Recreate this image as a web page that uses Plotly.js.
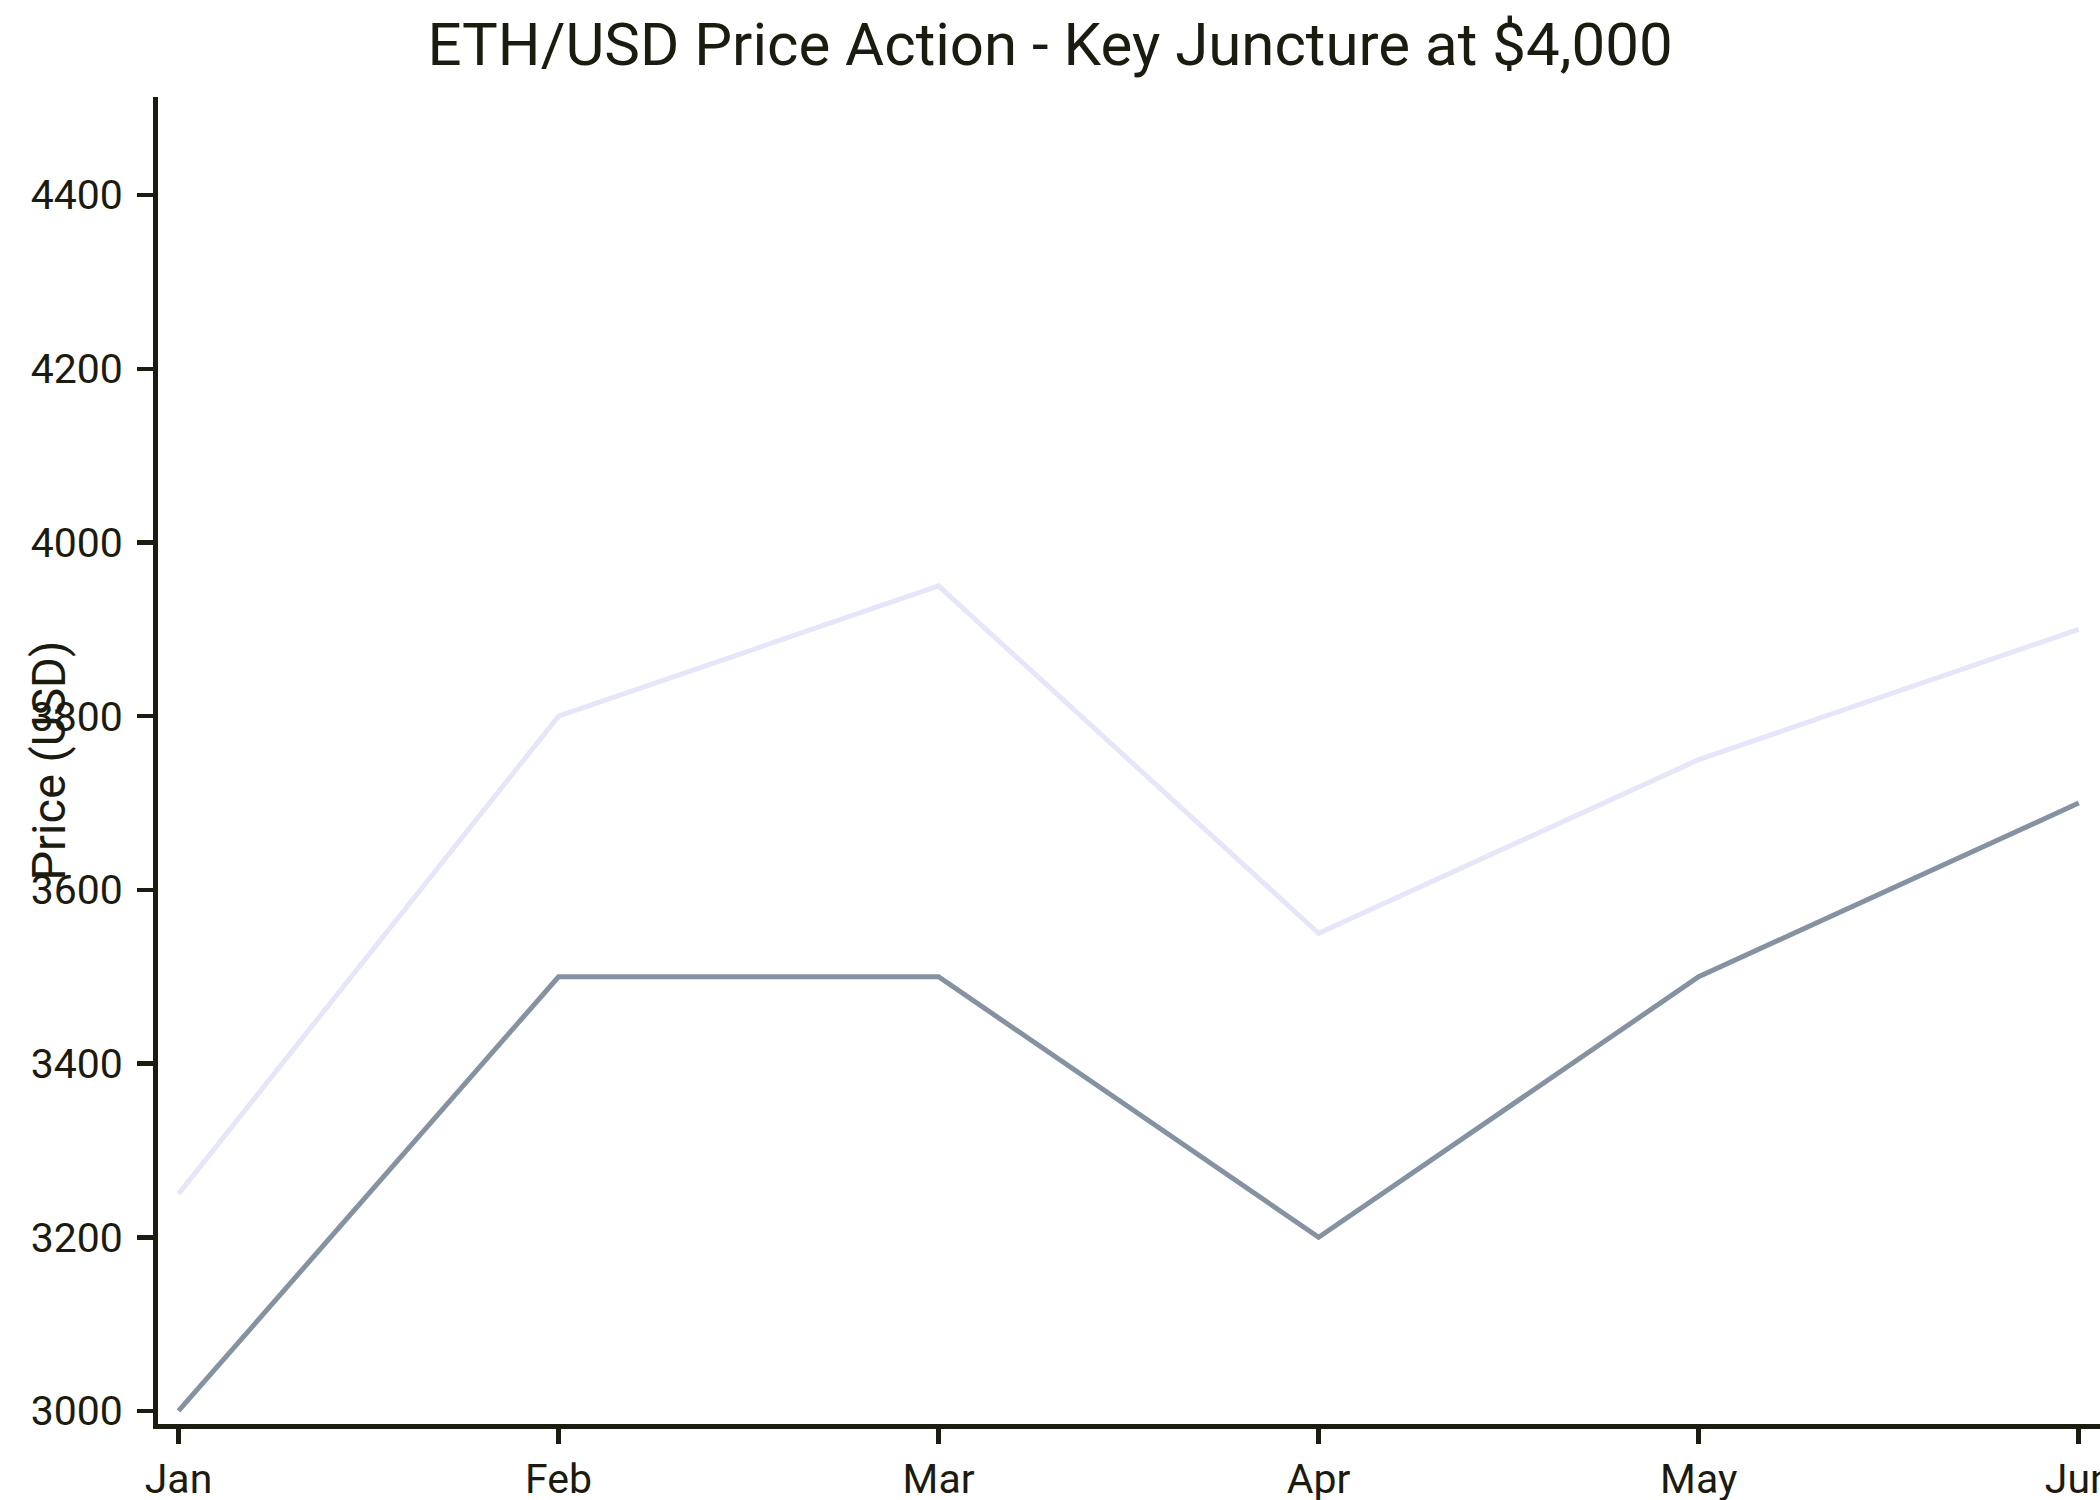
<!DOCTYPE html>
<html>
<head>
<meta charset="utf-8">
<script src="https://cdn.plot.ly/plotly-3.0.1.min.js"></script>
<style>
    html, body { margin: 0; padding: 0; background: #ffffff; }
    #chart { width: 2100px; height: 1500px; }
</style>
</head>
<body>
<div id="chart"></div>
<script>
// months on the x axis
const months = ['Jan', 'Feb', 'Mar', 'Apr', 'May', 'Jun'];

// upper (light) and lower (dark) price lines
const upperPrices = [3250, 3800, 3950, 3550, 3750, 3900];
const lowerPrices = [3000, 3500, 3500, 3200, 3500, 3700];

// y axis ticks
const yTicks = [3000, 3200, 3400, 3600, 3800, 4000, 4200, 4400];

const inkColor = '#1c1b0f';

function buildChart() {
    const upperTrace = {
        x: months,
        y: upperPrices,
        type: 'scatter',
        mode: 'lines',
        line: { color: '#e6e6fa', width: 5 },
        hoverinfo: 'skip'
    };

    const lowerTrace = {
        x: months,
        y: lowerPrices,
        type: 'scatter',
        mode: 'lines',
        line: { color: '#8592a2', width: 5 },
        hoverinfo: 'skip'
    };

    const layout = {
        width: 2100,
        height: 1500,
        paper_bgcolor: '#ffffff',
        plot_bgcolor: '#ffffff',
        showlegend: false,
        margin: { l: 158, r: 0, t: 97, b: 76 },
        font: { family: 'Roboto, sans-serif', color: inkColor, size: 40 },
        title: {
            text: 'ETH/USD Price Action - Key Juncture at $4,000',
            font: { size: 60, color: inkColor },
            xref: 'container',
            x: 0.5,
            xanchor: 'center',
            yref: 'container',
            y: 0.971,
            yanchor: 'middle'
        },
        xaxis: {
            type: 'category',
            range: [-0.054, 5.056],
            showgrid: false,
            zeroline: false,
            showline: true,
            linecolor: inkColor,
            linewidth: 5,
            ticks: 'outside',
            ticklen: 15,
            tickwidth: 4.5,
            tickcolor: inkColor,
            tickfont: { size: 41, color: inkColor },
            fixedrange: true
        },
        yaxis: {
            range: [2985, 4513],
            tickvals: yTicks,
            ticktext: yTicks.map(String),
            showgrid: false,
            zeroline: false,
            showline: true,
            linecolor: inkColor,
            linewidth: 5,
            ticks: 'outside',
            ticklen: 16,
            tickwidth: 4.5,
            tickcolor: inkColor,
            tickfont: { size: 41, color: inkColor },
            ticklabelstandoff: 6,
            fixedrange: true
        },
        annotations: [{
            text: 'Price (USD)',
            xref: 'paper',
            yref: 'paper',
            x: -0.0566,
            y: 0.5,
            xanchor: 'center',
            yanchor: 'middle',
            textangle: -90,
            showarrow: false,
            font: { size: 47, color: inkColor }
        }]
    };

    const config = {
        displayModeBar: false,
        staticPlot: true
    };

    Plotly.newPlot('chart', [upperTrace, lowerTrace], layout, config);
}

buildChart();
</script>
</body>
</html>
